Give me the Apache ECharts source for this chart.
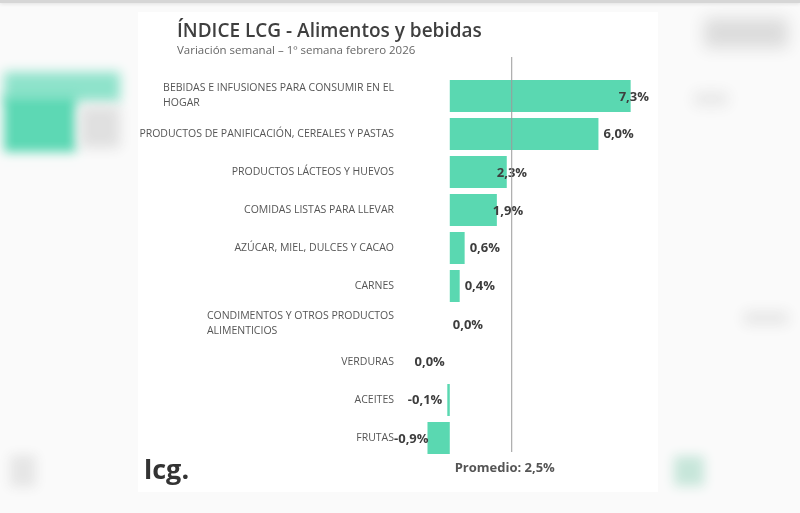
<!DOCTYPE html>
<html>
<head>
<meta charset="utf-8">
<script src="https://cdn.jsdelivr.net/npm/echarts@6/dist/echarts.min.js"></script>
<style>
  html, body { margin: 0; padding: 0; background: #fafafa; }
  #chart { width: 800px; height: 513px; }
</style>
</head>
<body>
<div id="chart"></div>
<script>
// datos
var categorias = [
  'BEBIDAS E INFUSIONES PARA CONSUMIR EN EL\nHOGAR',
  'PRODUCTOS DE PANIFICACIÓN, CEREALES Y PASTAS',
  'PRODUCTOS LÁCTEOS Y HUEVOS',
  'COMIDAS LISTAS PARA LLEVAR',
  'AZÚCAR, MIEL, DULCES Y CACAO',
  'CARNES',
  'CONDIMENTOS Y OTROS PRODUCTOS\nALIMENTICIOS',
  'VERDURAS',
  'ACEITES',
  'FRUTAS'
];
var variacion = [7.3, 6.0, 2.3, 1.9, 0.6, 0.4, 0.0, 0.0, -0.1, -0.9];
var promedio = 2.5;
var titulo = 'ÍNDICE LCG - Alimentos y bebidas';
var subtitulo = 'Variación semanal – 1º semana febrero 2026';

var verde = '#5ad8b1';

function fmt(v) {
  return v.toFixed(1).replace('.', ',') + '%';
}

// ajustes de etiquetas (como en el original, no todas van igual)
var ajustes = {
  0: { offset: [-17, 1] },
  2: { offset: [-15, 1] },
  3: { offset: [-9, 1] },
  6: { offset: [-2, 1] },
  7: { position: 'left' },
  8: { position: 'left' },
  9: { position: 'left', offset: [6, 1] }
};

var datos = variacion.map(function (v, i) {
  var item = { value: v };
  if (ajustes[i]) item.label = ajustes[i];
  return item;
});

var myChart = echarts.init(document.getElementById('chart'));

var option = {
  backgroundColor: '#fafafa',
  animation: false,
  title: {
    text: titulo,
    subtext: subtitulo,
    left: 172,
    top: 17,
    itemGap: 4,
    textStyle: { fontFamily: 'Open Sans', fontSize: 19, fontWeight: 600, color: '#3f3f3f' },
    subtextStyle: { fontFamily: 'Open Sans', fontSize: 11.5, color: '#666' }
  },
  grid: { left: 425, right: 152, top: 77, bottom: 56, containLabel: false },
  xAxis: {
    type: 'value',
    min: -1,
    max: 8,
    show: false
  },
  yAxis: {
    type: 'category',
    inverse: true,
    data: categorias,
    axisLine: { show: false },
    axisTick: { show: false },
    splitLine: { show: false },
    axisLabel: {
      margin: 31,
      fontFamily: 'Open Sans',
      fontSize: 10.5,
      color: '#555',
      lineHeight: 15,
      formatter: function (val) {
        if (val.indexOf('\n') < 0) return val;
        // etiquetas de dos lineas: alineadas a la izquierda dentro del bloque
        return val.split('\n').map(function (p) { return '{l|' + p + '}'; }).join('\n');
      },
      rich: {
        l: { fontFamily: 'Open Sans', fontSize: 10.5, color: '#555', align: 'left', lineHeight: 15 }
      }
    }
  },
  series: [{
    type: 'bar',
    data: datos,
    barWidth: 32,
    itemStyle: { color: verde },
    label: {
      show: true,
      position: 'right',
      distance: 5,
      fontFamily: 'Open Sans',
      fontSize: 13,
      fontWeight: 'bold',
      color: '#3d3d3d',
      formatter: function (p) { return fmt(p.value); }
    }
  }]
};

myChart.setOption(option);

// linea del promedio, ubicada con la escala del eje
var xProm = myChart.convertToPixel({ xAxisIndex: 0 }, promedio);

// fondo difuso: se dibuja fuera de pantalla y solo se ve la sombra
function borroso(x, y, w, h, color, op, blur) {
  return {
    type: 'rect', z: -9,
    shape: { x: x + 2000, y: y, width: w, height: h },
    style: { fill: color, opacity: op, shadowBlur: blur, shadowColor: color, shadowOffsetX: -2000 }
  };
}

myChart.setOption({
  graphic: [
    // panel blanco del grafico
    { type: 'rect', z: -10, shape: { x: 138, y: 12, width: 520, height: 480 }, style: { fill: '#ffffff' } },
    // sombra de la barra superior
    { type: 'rect', z: -9, shape: { x: 0, y: 0, width: 800, height: 3 }, style: { fill: '#d6d6d6', shadowBlur: 4, shadowColor: '#cfcfcf' } },
    // fondo difuso izquierdo
    borroso(4, 72, 116, 30, '#8fe3cb', 1, 12),
    borroso(4, 96, 72, 56, '#5dd8b4', 1, 10),
    borroso(80, 106, 40, 42, '#e0e0e0', 1, 12),
    borroso(10, 455, 26, 32, '#e6e6e6', 1, 12),
    // fondo difuso derecho
    borroso(704, 18, 84, 30, '#dcdcdc', 1, 16),
    borroso(694, 92, 34, 14, '#e8e8e8', 1, 14),
    borroso(744, 312, 44, 12, '#e4e4e4', 1, 14),
    borroso(674, 456, 30, 30, '#c7e6da', 1, 12),
    // promedio
    { type: 'line', z: 10, shape: { x1: xProm, y1: 57, x2: xProm, y2: 452 }, style: { stroke: '#9a9a9a', lineWidth: 1 } },
    {
      type: 'text', z: 10, x: xProm - 7, y: 468,
      style: {
        text: 'Promedio: ' + fmt(promedio),
        fontFamily: 'Open Sans', fontSize: 13, fontWeight: 'bold', fill: '#555',
        textAlign: 'center', textVerticalAlign: 'middle'
      }
    },
    // logo
    {
      type: 'text', z: 10, x: 144, y: 471,
      style: {
        text: 'lcg.',
        fontFamily: 'Open Sans', fontSize: 27, fontWeight: 'bold', fill: '#333',
        textAlign: 'left', textVerticalAlign: 'middle'
      }
    }
  ]
});
</script>
</body>
</html>
